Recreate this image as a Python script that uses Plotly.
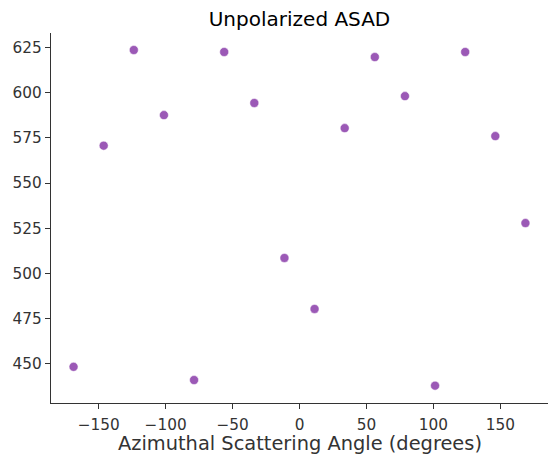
import plotly.graph_objects as go

angles = [-168.75, -146.25, -123.75, -101.25, -78.75, -56.25, -33.75, -11.25,
          11.25, 33.75, 56.25, 78.75, 101.25, 123.75, 146.25, 168.75]
counts = [448.4, 570.7, 623.6, 587.6, 441.1, 622.5, 594.3, 508.6,
          480.4, 580.4, 619.7, 598.1, 438.0, 622.5, 576.0, 527.9]
x_ticks = [-150, -100, -50, 0, 50, 100, 150]
y_ticks = [450, 475, 500, 525, 550, 575, 600, 625]

FONT = "DejaVu Sans"
TXT = "#333333"

fig = go.Figure()
fig.add_trace(go.Scatter(
    x=angles, y=counts, mode="markers",
    marker=dict(color="#9b59b6", size=9, line=dict(color="white", width=0.5)),
    showlegend=False,
))

axis_common = dict(
    showline=True, linecolor=TXT, linewidth=1.25, mirror=False,
    ticks="outside", ticklen=5, tickwidth=1.25, tickcolor=TXT,
    showgrid=False, zeroline=False, automargin=False,
    tickfont=dict(family=FONT, size=15.3, color=TXT),
)

plot_h = 465 - 33 - 62

fig.update_layout(
    width=557, height=465,
    margin=dict(l=51, r=9, t=33, b=62),
    paper_bgcolor="white", plot_bgcolor="white",
    title=dict(text="Unpolarized ASAD", font=dict(family=FONT, size=20, color="black"),
               x=(51 + 548) / 2 / 557, xanchor="center", xref="container",
               y=1 - 19 / 465, yanchor="middle", yref="container", automargin=False),
    xaxis=dict(range=[-185.6, 185.6], tickvals=x_ticks,
               ticktext=[("\u2212" + str(abs(v))) if v < 0 else str(v) for v in x_ticks],
               ticklabelstandoff=3,
               **axis_common),
    yaxis=dict(range=[428.4, 633.0], tickvals=y_ticks, **axis_common),
    annotations=[dict(text="Azimuthal Scattering Angle (degrees)",
                      font=dict(family=FONT, size=19.4, color=TXT),
                      xref="paper", yref="paper", x=0.5, y=-(443.5 - 403) / plot_h,
                      xanchor="center", yanchor="middle", showarrow=False)],
)

fig.write_html("out.html", post_script="document.body.style.margin='0';",
               config={"displayModeBar": False})
